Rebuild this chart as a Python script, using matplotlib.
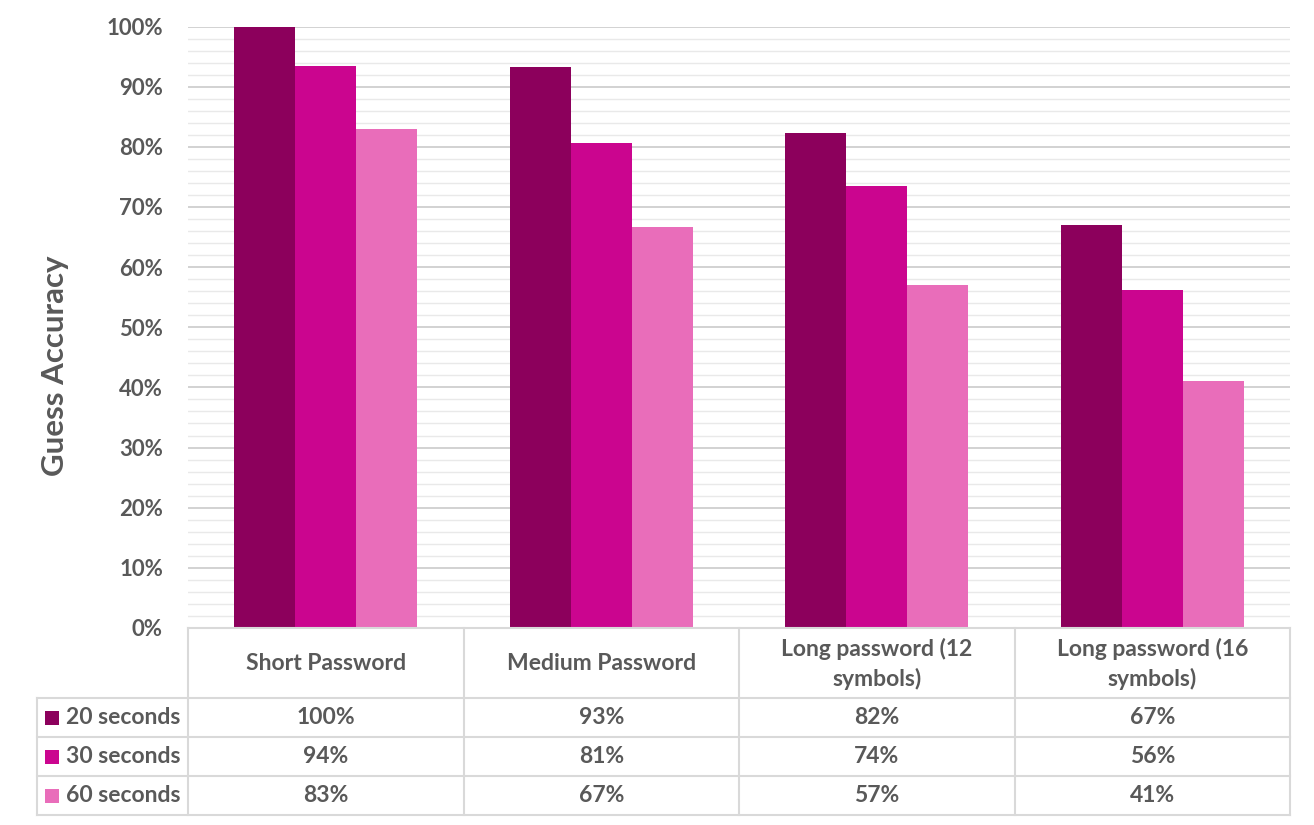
import numpy as np
import matplotlib
matplotlib.use("Agg")
import matplotlib.pyplot as plt
from matplotlib.patches import Rectangle
from matplotlib.ticker import MultipleLocator, FuncFormatter

plt.rcParams['font.family'] = ['Lato', 'DejaVu Sans']

categories = ["Short Password", "Medium Password",
              "Long password (12\nsymbols)", "Long password (16\nsymbols)"]
series_names = ["20 seconds", "30 seconds", "60 seconds"]
s20 = [100.0, 93.3, 82.3, 67.0]
s30 = [93.5, 80.6, 73.5, 56.2]
s60 = [83.0, 66.7, 57.0, 41.0]
series = [s20, s30, s60]
colors = ["#8C005C", "#CB058F", "#E96DBA"]
yticks = [0, 10, 20, 30, 40, 50, 60, 70, 80, 90, 100]

TXT = "#595959"
GRID = "#d9d9d9"
W, H = 1314, 825


def px(l, t, r, b):
    return [l / W, 1 - b / H, (r - l) / W, (b - t) / H]


fig = plt.figure(figsize=(W / 100, H / 100), dpi=100)
ax = fig.add_axes(px(188, 26.5, 1290, 628))

x = np.arange(len(categories))
bw = 0.2214
for i, (vals, c) in enumerate(zip(series, colors)):
    ax.bar(x + (i - 1) * bw, vals, bw, color=c, zorder=3, linewidth=0)

ax.set_xlim(-0.5, len(categories) - 0.5)
ax.set_ylim(0, 100)
ax.set_yticks(yticks)
ax.yaxis.set_major_formatter(FuncFormatter(lambda v, p: f"{int(v)}%"))
ax.yaxis.set_minor_locator(MultipleLocator(2))
ax.grid(axis='y', which='major', color="#cfcfcf", lw=1.3, zorder=0)
ax.grid(axis='y', which='minor', color="#e9e9e9", lw=1.0, zorder=0)
ax.set_xticks([])
ax.tick_params(axis='y', which='both', length=0, pad=18, labelsize=16,
               labelcolor=TXT)
for lab in ax.get_yticklabels():
    lab.set_fontweight('bold')
for s in ax.spines.values():
    s.set_visible(False)

fig.text(55 / W, 1 - 366 / H, "Guess Accuracy", rotation=90, ha='center',
         va='center', fontsize=22.5, color=TXT, fontweight='bold')

# data table
left_u = -0.5 - 151 / 275.5
tax = fig.add_axes(px(37, 628, 1290, 815))
tax.set_xlim(left_u, len(categories) - 0.5)
tax.set_ylim(187, 0)
tax.axis('off')
rows = [0, 70, 109, 148, 187]
lk = dict(color=GRID, lw=1.5, clip_on=False, solid_capstyle='projecting')
tax.plot([-0.5, len(categories) - 0.5], [0, 0], **lk)
for r in rows[1:]:
    tax.plot([left_u, len(categories) - 0.5], [r, r], **lk)
tax.plot([left_u, left_u], [rows[1], rows[-1]], **lk)
for k in range(len(categories) + 1):
    tax.plot([k - 0.5, k - 0.5], [0, rows[-1]], **lk)

for i, cat in enumerate(categories):
    tax.text(i, 36, cat, ha='center', va='center', fontsize=16.5,
             color=TXT, fontweight='bold', linespacing=1.4)
for j, (name, vals, c) in enumerate(zip(series_names, series, colors)):
    yc = (rows[j + 1] + rows[j + 2]) / 2
    tax.add_patch(Rectangle((left_u + 8 / 275.5, yc - 7), 14 / 275.5, 14,
                            color=c, lw=0))
    tax.text(left_u + 29 / 275.5, yc, name, ha='left', va='center',
             fontsize=16.5, color=TXT, fontweight='bold')
    for i, v in enumerate(vals):
        tax.text(i, yc, f"{int(v + 0.5)}%", ha='center', va='center',
                 fontsize=16.5, color=TXT, fontweight='bold')

fig.savefig("out.png", dpi=100, facecolor='white')
